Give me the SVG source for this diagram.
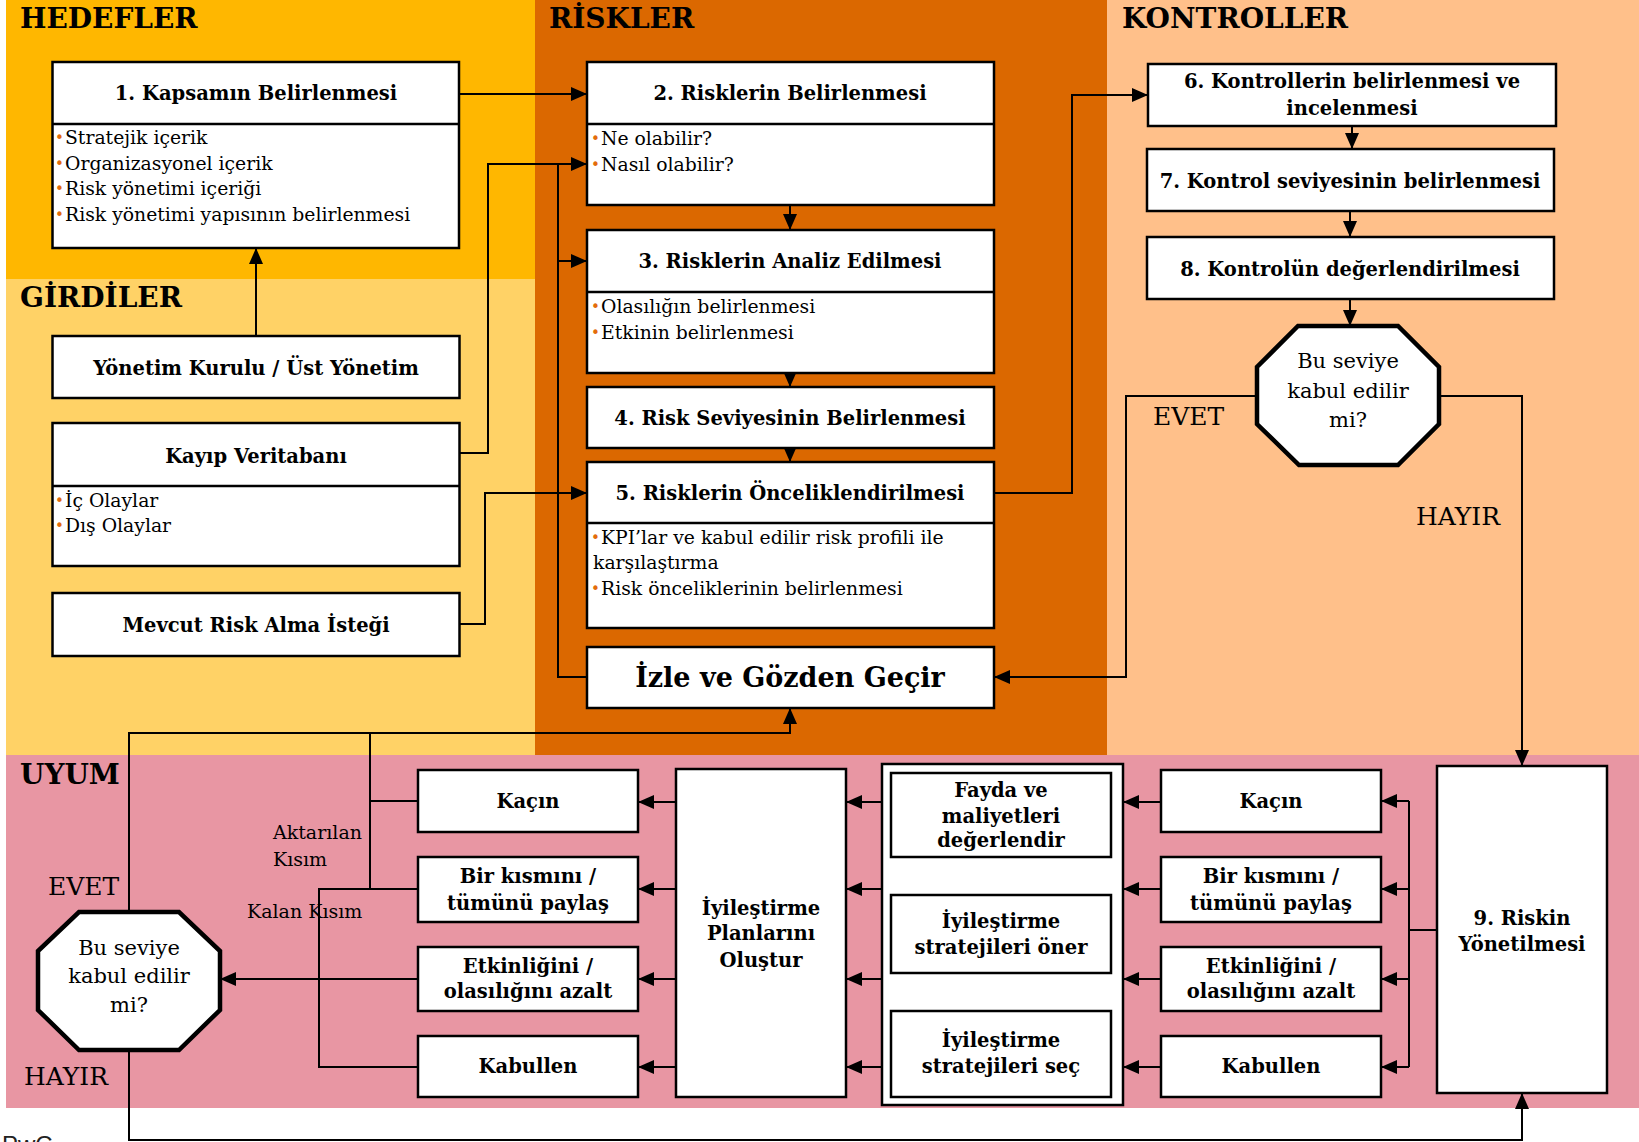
<svg xmlns="http://www.w3.org/2000/svg" width="1639" height="1142" viewBox="0 0 1639 1142">
  <style>
    .box { fill: #fff; stroke: #000; stroke-width: 2.5; }
    .oct { fill: #fff; stroke: #000; stroke-width: 4.5; stroke-linejoin: miter; }
    .div { stroke: #000; stroke-width: 2.5; }
    .t { font-family: "DejaVu Serif", serif; font-weight: bold; font-size: 19.5px; text-anchor: middle; fill: #000; }
    .big { font-size: 27px; }
    .b { font-family: "DejaVu Serif", serif; font-size: 18.8px; fill: #000; }
    .bul { font-family: "DejaVu Sans", sans-serif; font-size: 15px; fill: #E36C0A; }
    .hd { font-family: "DejaVu Serif", serif; font-weight: bold; font-size: 28px; fill: #000; }
    .lbl { font-family: "DejaVu Serif", serif; font-size: 25px; fill: #000; }
    .q { font-family: "DejaVu Serif", serif; font-size: 21px; fill: #000; text-anchor: middle; }
    .sm { font-family: "DejaVu Serif", serif; font-size: 19px; fill: #000; }
    .c { fill: none; stroke: #000; stroke-width: 2; }
    .a { marker-end: url(#ah); }
  </style>
  <defs>
    <marker id="ah" markerUnits="userSpaceOnUse" markerWidth="16" markerHeight="14" refX="16" refY="7" orient="auto">
      <path d="M0,0 L16,7 L0,14 Z" fill="#000"/>
    </marker>
  </defs>

  <!-- swimlane backgrounds -->
  <g id="lanes">
    <rect x="6" y="0" width="529" height="279" fill="#FFB700"/>
    <rect x="6" y="279" width="529" height="476" fill="#FFD266"/>
    <rect x="535" y="0" width="572" height="755" fill="#DB6800"/>
    <rect x="1107" y="0" width="532" height="755" fill="#FFC08A"/>
    <rect x="6" y="755" width="1633" height="353" fill="#E896A3"/>
    <text class="hd" x="20" y="28">HEDEFLER</text>
    <text class="hd" x="20" y="307">GİRDİLER</text>
    <text class="hd" x="549" y="28">RİSKLER</text>
    <text class="hd" x="1122" y="28">KONTROLLER</text>
    <text class="hd" x="20" y="784">UYUM</text>
  </g>

  <!-- connectors -->
  <g id="connectors">
    <path class="c a" d="M459,94 H587"/>
    <path class="c a" d="M256,336 V248"/>
    <path class="c a" d="M459,453 H488 V164 H587"/>
    <path class="c a" d="M459,624 H485 V493 H587"/>
    <path class="c" d="M587,677 H558 V164"/>
    <path class="c a" d="M558,261 H587"/>
    <path class="c a" d="M790,205 V230"/>
    <path class="c a" d="M790,373 V387"/>
    <path class="c a" d="M790,448 V462"/>
    <path class="c a" d="M994,493 H1072 V95 H1148"/>
    <path class="c a" d="M1352,126 V149"/>
    <path class="c a" d="M1350,211 V237"/>
    <path class="c a" d="M1350,299 V326"/>
    <path class="c a" d="M1257,396 H1126 V677 H994"/>
    <path class="c a" d="M1439,396 H1522 V766"/>
    <path class="c a" d="M129,912 V733 H790 V708"/>
    <path class="c" d="M418,801 H370 V733"/>
    <path class="c" d="M370,801 V889"/>
    <path class="c" d="M418,889 H319 V1067 H418"/>
    <path class="c a" d="M418,979 H220"/>
    <path class="c a" d="M676,802 H638"/>
    <path class="c a" d="M676,889 H638"/>
    <path class="c a" d="M676,979 H638"/>
    <path class="c a" d="M676,1067 H638"/>
    <path class="c a" d="M882,802 H846"/>
    <path class="c a" d="M882,889 H846"/>
    <path class="c a" d="M882,979 H846"/>
    <path class="c a" d="M882,1067 H846"/>
    <path class="c a" d="M1161,802 H1123"/>
    <path class="c a" d="M1161,889 H1123"/>
    <path class="c a" d="M1161,979 H1123"/>
    <path class="c a" d="M1161,1067 H1123"/>
    <path class="c" d="M1437,930 H1409 M1409,801 V1067"/>
    <path class="c a" d="M1409,801 H1381"/>
    <path class="c a" d="M1409,889 H1381"/>
    <path class="c a" d="M1409,979 H1381"/>
    <path class="c a" d="M1409,1067 H1381"/>
    <path class="c a" d="M129,1050 V1140 H1522 V1093"/>
  </g>

  <!-- HEDEFLER -->
  <g id="n1">
    <rect class="box" x="52.5" y="62" width="406.5" height="186"/>
    <line class="div" x1="52.5" y1="124" x2="459" y2="124"/>
    <text class="t" x="256" y="100">1. Kapsamın Belirlenmesi</text>
    <text class="bul" x="55" y="143">•</text><text class="b" x="65" y="144">Stratejik içerik</text>
    <text class="bul" x="55" y="169">•</text><text class="b" x="65" y="170">Organizasyonel içerik</text>
    <text class="bul" x="55" y="194">•</text><text class="b" x="65" y="195">Risk yönetimi içeriği</text>
    <text class="bul" x="55" y="220">•</text><text class="b" x="65" y="221">Risk yönetimi yapısının belirlenmesi</text>
  </g>

  <!-- GİRDİLER -->
  <g id="n-board">
    <rect class="box" x="52.5" y="336" width="407" height="62"/>
    <text class="t" x="256" y="375">Yönetim Kurulu / Üst Yönetim</text>
  </g>
  <g id="n-lossdb">
    <rect class="box" x="52.5" y="423" width="407" height="143"/>
    <line class="div" x1="52.5" y1="486" x2="459.5" y2="486"/>
    <text class="t" x="256" y="463">Kayıp Veritabanı</text>
    <text class="bul" x="55" y="506">•</text><text class="b" x="65" y="507">İç Olaylar</text>
    <text class="bul" x="55" y="531">•</text><text class="b" x="65" y="532">Dış Olaylar</text>
  </g>
  <g id="n-appetite">
    <rect class="box" x="52.5" y="593" width="407" height="63"/>
    <text class="t" x="256" y="632">Mevcut Risk Alma İsteği</text>
  </g>

  <!-- RİSKLER -->
  <g id="n2">
    <rect class="box" x="587" y="62" width="407" height="143"/>
    <line class="div" x1="587" y1="124" x2="994" y2="124"/>
    <text class="t" x="790" y="100">2. Risklerin Belirlenmesi</text>
    <text class="bul" x="591" y="144">•</text><text class="b" x="601" y="145">Ne olabilir?</text>
    <text class="bul" x="591" y="170">•</text><text class="b" x="601" y="171">Nasıl olabilir?</text>
  </g>
  <g id="n3">
    <rect class="box" x="587" y="230" width="407" height="143"/>
    <line class="div" x1="587" y1="292" x2="994" y2="292"/>
    <text class="t" x="790" y="268">3. Risklerin Analiz Edilmesi</text>
    <text class="bul" x="591" y="312">•</text><text class="b" x="601" y="313">Olasılığın belirlenmesi</text>
    <text class="bul" x="591" y="338">•</text><text class="b" x="601" y="339">Etkinin belirlenmesi</text>
  </g>
  <g id="n4">
    <rect class="box" x="587" y="387" width="407" height="61"/>
    <text class="t" x="790" y="425">4. Risk Seviyesinin Belirlenmesi</text>
  </g>
  <g id="n5">
    <rect class="box" x="587" y="462" width="407" height="166"/>
    <line class="div" x1="587" y1="523" x2="994" y2="523"/>
    <text class="t" x="790" y="500">5. Risklerin Önceliklendirilmesi</text>
    <text class="bul" x="591" y="543">•</text><text class="b" x="601" y="544">KPI’lar ve kabul edilir risk profili ile</text>
    <text class="b" x="593" y="569">karşılaştırma</text>
    <text class="bul" x="591" y="594">•</text><text class="b" x="601" y="595">Risk önceliklerinin belirlenmesi</text>
  </g>
  <g id="n-monitor">
    <rect class="box" x="587" y="647" width="407" height="61"/>
    <text class="t big" x="790" y="687">İzle ve Gözden Geçir</text>
  </g>

  <!-- KONTROLLER -->
  <g id="n6">
    <rect class="box" x="1148" y="64" width="408" height="62"/>
    <text class="t" x="1352" y="88">6. Kontrollerin belirlenmesi ve</text>
    <text class="t" x="1352" y="115">incelenmesi</text>
  </g>
  <g id="n7">
    <rect class="box" x="1147" y="149" width="407" height="62"/>
    <text class="t" x="1350" y="188">7. Kontrol seviyesinin belirlenmesi</text>
  </g>
  <g id="n8">
    <rect class="box" x="1147" y="237" width="407" height="62"/>
    <text class="t" x="1350" y="276">8. Kontrolün değerlendirilmesi</text>
  </g>
  <g id="d1">
    <polygon class="oct" points="1298,326 1398,326 1439,367 1439,424 1398,465 1299,465 1257,424 1257,367"/>
    <text class="q" x="1348" y="368">Bu seviye</text>
    <text class="q" x="1348" y="398">kabul edilir</text>
    <text class="q" x="1348" y="427">mi?</text>
  </g>
  <text class="lbl" x="1153" y="425">EVET</text>
  <text class="lbl" x="1416" y="525">HAYIR</text>

  <!-- UYUM -->
  <g id="d2">
    <polygon class="oct" points="79,912 179,912 220,951 220,1010 179,1050 79,1050 38,1010 38,951"/>
    <text class="q" x="129" y="955">Bu seviye</text>
    <text class="q" x="129" y="983">kabul edilir</text>
    <text class="q" x="129" y="1012">mi?</text>
  </g>
  <text class="lbl" x="48" y="895">EVET</text>
  <text class="lbl" x="24" y="1085">HAYIR</text>
  <text class="sm" x="273" y="839">Aktarılan</text>
  <text class="sm" x="273" y="866">Kısım</text>
  <text class="sm" x="247" y="918">Kalan Kısım</text>

  <g id="l-avoid">
    <rect class="box" x="418" y="770" width="220" height="62"/>
    <text class="t" x="528" y="808">Kaçın</text>
  </g>
  <g id="l-share">
    <rect class="box" x="418" y="857" width="220" height="65"/>
    <text class="t" x="528" y="883">Bir kısmını /</text>
    <text class="t" x="528" y="910">tümünü paylaş</text>
  </g>
  <g id="l-reduce">
    <rect class="box" x="418" y="947" width="220" height="64"/>
    <text class="t" x="528" y="973">Etkinliğini /</text>
    <text class="t" x="528" y="998">olasılığını azalt</text>
  </g>
  <g id="l-accept">
    <rect class="box" x="418" y="1036" width="220" height="61"/>
    <text class="t" x="528" y="1073">Kabullen</text>
  </g>

  <g id="n-plan">
    <rect class="box" x="676" y="769" width="170" height="328"/>
    <text class="t" x="761" y="915">İyileştirme</text>
    <text class="t" x="761" y="940">Planlarını</text>
    <text class="t" x="761" y="967">Oluştur</text>
  </g>

  <g id="n-strategy">
    <rect class="box" x="882" y="764" width="241" height="341"/>
    <rect class="box" x="891" y="773" width="220" height="84"/>
    <text class="t" x="1001" y="797">Fayda ve</text>
    <text class="t" x="1001" y="823">maliyetleri</text>
    <text class="t" x="1001" y="847">değerlendir</text>
    <rect class="box" x="891" y="895" width="220" height="78"/>
    <text class="t" x="1001" y="928">İyileştirme</text>
    <text class="t" x="1001" y="954">stratejileri öner</text>
    <rect class="box" x="891" y="1011" width="220" height="86"/>
    <text class="t" x="1001" y="1047">İyileştirme</text>
    <text class="t" x="1001" y="1073">stratejileri seç</text>
  </g>

  <g id="r-avoid">
    <rect class="box" x="1161" y="770" width="220" height="62"/>
    <text class="t" x="1271" y="808">Kaçın</text>
  </g>
  <g id="r-share">
    <rect class="box" x="1161" y="857" width="220" height="65"/>
    <text class="t" x="1271" y="883">Bir kısmını /</text>
    <text class="t" x="1271" y="910">tümünü paylaş</text>
  </g>
  <g id="r-reduce">
    <rect class="box" x="1161" y="947" width="220" height="64"/>
    <text class="t" x="1271" y="973">Etkinliğini /</text>
    <text class="t" x="1271" y="998">olasılığını azalt</text>
  </g>
  <g id="r-accept">
    <rect class="box" x="1161" y="1036" width="220" height="61"/>
    <text class="t" x="1271" y="1073">Kabullen</text>
  </g>

  <g id="n9">
    <rect class="box" x="1437" y="766" width="170" height="327"/>
    <text class="t" x="1522" y="925">9. Riskin</text>
    <text class="t" x="1522" y="951">Yönetilmesi</text>
  </g>

  <text x="2" y="1153" font-family="Liberation Sans, sans-serif" font-size="24" fill="#222">PwC</text>
</svg>
